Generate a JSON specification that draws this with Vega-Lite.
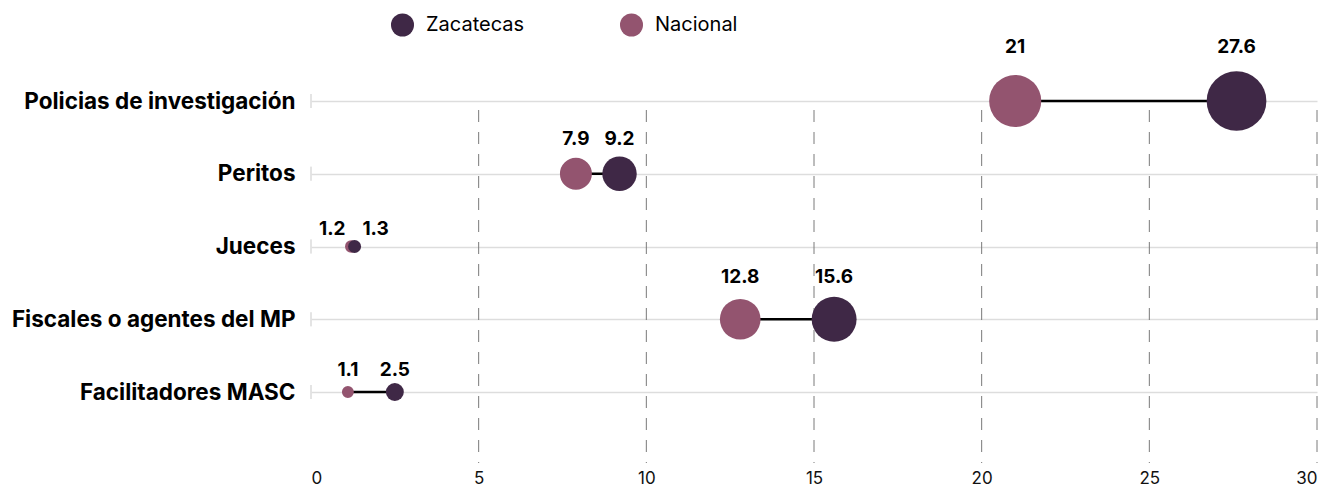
{
  "$schema": "https://vega.github.io/schema/vega-lite/v6.json",
  "autosize": {"type": "none"},
  "padding": {"left": 311, "top": 110, "right": 13, "bottom": 24},
  "width": 1006,
  "height": 353,
  "background": "white",
  "config": {
    "view": {"stroke": null},
    "font": "Inter",
    "axis": {"labelFont": "Inter", "titleFont": "Inter"},
    "legend": {"labelFont": "Inter"}
  },
  "datasets": {
    "puntos": [
      {"categoria": "Policias de investigación", "serie": "Nacional", "valor": 21},
      {"categoria": "Peritos", "serie": "Nacional", "valor": 7.9},
      {"categoria": "Jueces", "serie": "Nacional", "valor": 1.2},
      {"categoria": "Fiscales o agentes del MP", "serie": "Nacional", "valor": 12.8},
      {"categoria": "Facilitadores MASC", "serie": "Nacional", "valor": 1.1},
      {"categoria": "Policias de investigación", "serie": "Zacatecas", "valor": 27.6},
      {"categoria": "Peritos", "serie": "Zacatecas", "valor": 9.2},
      {"categoria": "Jueces", "serie": "Zacatecas", "valor": 1.3},
      {"categoria": "Fiscales o agentes del MP", "serie": "Zacatecas", "valor": 15.6},
      {"categoria": "Facilitadores MASC", "serie": "Zacatecas", "valor": 2.5}
    ],
    "rejilla": [
      {"g": 5}, {"g": 10}, {"g": 15}, {"g": 20}, {"g": 25}, {"g": 30}
    ]
  },
  "resolve": {"scale": {"yOffset": "independent"}},
  "layer": [
    {
      "data": {"name": "rejilla"},
      "mark": {"type": "rule", "color": "#7a7a7a", "strokeWidth": 1, "strokeDash": [12, 10]},
      "encoding": {
        "x": {
          "field": "g",
          "type": "quantitative",
          "scale": {"domain": [0, 30], "nice": false, "zero": true},
          "axis": {
            "title": null,
            "values": [0, 5, 10, 15, 20, 25, 30],
            "domain": false,
            "ticks": false,
            "grid": false,
            "labelFontSize": 17,
            "labelColor": "#111111",
            "labelPadding": 7
          }
        }
      }
    },
    {
      "data": {"name": "puntos"},
      "mark": {"type": "tick", "orient": "vertical", "size": 14, "thickness": 1.5, "color": "#dddddd"},
      "encoding": {
        "x": {"datum": 0, "type": "quantitative"},
        "y": {
          "field": "categoria",
          "type": "nominal",
          "sort": ["Policias de investigación", "Peritos", "Jueces", "Fiscales o agentes del MP", "Facilitadores MASC"],
          "scale": {"type": "point", "range": [-9, 282], "padding": 0},
          "axis": {
            "title": null,
            "domain": false,
            "ticks": false,
            "labelFontSize": 22.5,
            "labelFontWeight": "bold",
            "labelColor": "#000000",
            "labelPadding": 16,
            "labelLimit": 320,
            "grid": true,
            "gridColor": "#dddddd",
            "gridWidth": 1.5
          }
        }
      }
    },
    {
      "data": {"name": "puntos"},
      "mark": {"type": "rule", "color": "#000000", "strokeWidth": 2.5},
      "encoding": {
        "y": {"field": "categoria", "type": "nominal", "sort": ["Policias de investigación", "Peritos", "Jueces", "Fiscales o agentes del MP", "Facilitadores MASC"]},
        "x": {"aggregate": "min", "field": "valor", "type": "quantitative"},
        "x2": {"aggregate": "max", "field": "valor"}
      }
    },
    {
      "data": {"name": "puntos"},
      "mark": {"type": "circle", "opacity": 1},
      "encoding": {
        "y": {"field": "categoria", "type": "nominal", "sort": ["Policias de investigación", "Peritos", "Jueces", "Fiscales o agentes del MP", "Facilitadores MASC"]},
        "x": {"field": "valor", "type": "quantitative"},
        "color": {
          "field": "serie",
          "type": "nominal",
          "scale": {"domain": ["Zacatecas", "Nacional"], "range": ["#3f2846", "#93546f"]},
          "legend": {
            "title": null,
            "orient": "none",
            "legendX": 79,
            "legendY": -98,
            "direction": "horizontal",
            "padding": 0,
            "symbolType": "circle",
            "symbolSize": 530,
            "symbolOpacity": 1,
            "labelFontSize": 20,
            "labelColor": "#000000",
            "labelOffset": 11,
            "columnPadding": 94
          }
        },
        "size": {
          "field": "valor",
          "type": "quantitative",
          "scale": {"type": "linear", "domain": [0, 27.6], "range": [0, 3568], "zero": true},
          "legend": null
        }
      }
    },
    {
      "data": {"name": "puntos"},
      "transform": [
        {"joinaggregate": [{"op": "max", "field": "valor", "as": "maxv"}], "groupby": ["categoria"]},
        {"filter": "datum.categoria !== 'Jueces'"}
      ],
      "mark": {"type": "text", "fontSize": 19, "fontWeight": "bold", "color": "#000000", "baseline": "middle", "align": "center"},
      "encoding": {
        "y": {"field": "categoria", "type": "nominal", "sort": ["Policias de investigación", "Peritos", "Jueces", "Fiscales o agentes del MP", "Facilitadores MASC"]},
        "x": {"field": "valor", "type": "quantitative"},
        "yOffset": {
          "field": "maxv",
          "type": "quantitative",
          "scale": {"type": "sqrt", "domain": [0, 27.6], "range": [-8, -54.2]}
        },
        "text": {"field": "valor", "type": "quantitative"}
      }
    },
    {
      "data": {"name": "puntos"},
      "transform": [
        {"filter": "datum.categoria === 'Jueces' && datum.serie === 'Nacional'"}
      ],
      "mark": {"type": "text", "fontSize": 19, "fontWeight": "bold", "color": "#000000", "baseline": "middle", "align": "center", "dx": -19, "dy": -18},
      "encoding": {
        "y": {"field": "categoria", "type": "nominal", "sort": ["Policias de investigación", "Peritos", "Jueces", "Fiscales o agentes del MP", "Facilitadores MASC"]},
        "x": {"field": "valor", "type": "quantitative"},
        "text": {"field": "valor", "type": "quantitative"}
      }
    },
    {
      "data": {"name": "puntos"},
      "transform": [
        {"filter": "datum.categoria === 'Jueces' && datum.serie === 'Zacatecas'"}
      ],
      "mark": {"type": "text", "fontSize": 19, "fontWeight": "bold", "color": "#000000", "baseline": "middle", "align": "center", "dx": 21, "dy": -18},
      "encoding": {
        "y": {"field": "categoria", "type": "nominal", "sort": ["Policias de investigación", "Peritos", "Jueces", "Fiscales o agentes del MP", "Facilitadores MASC"]},
        "x": {"field": "valor", "type": "quantitative"},
        "text": {"field": "valor", "type": "quantitative"}
      }
    }
  ]
}
